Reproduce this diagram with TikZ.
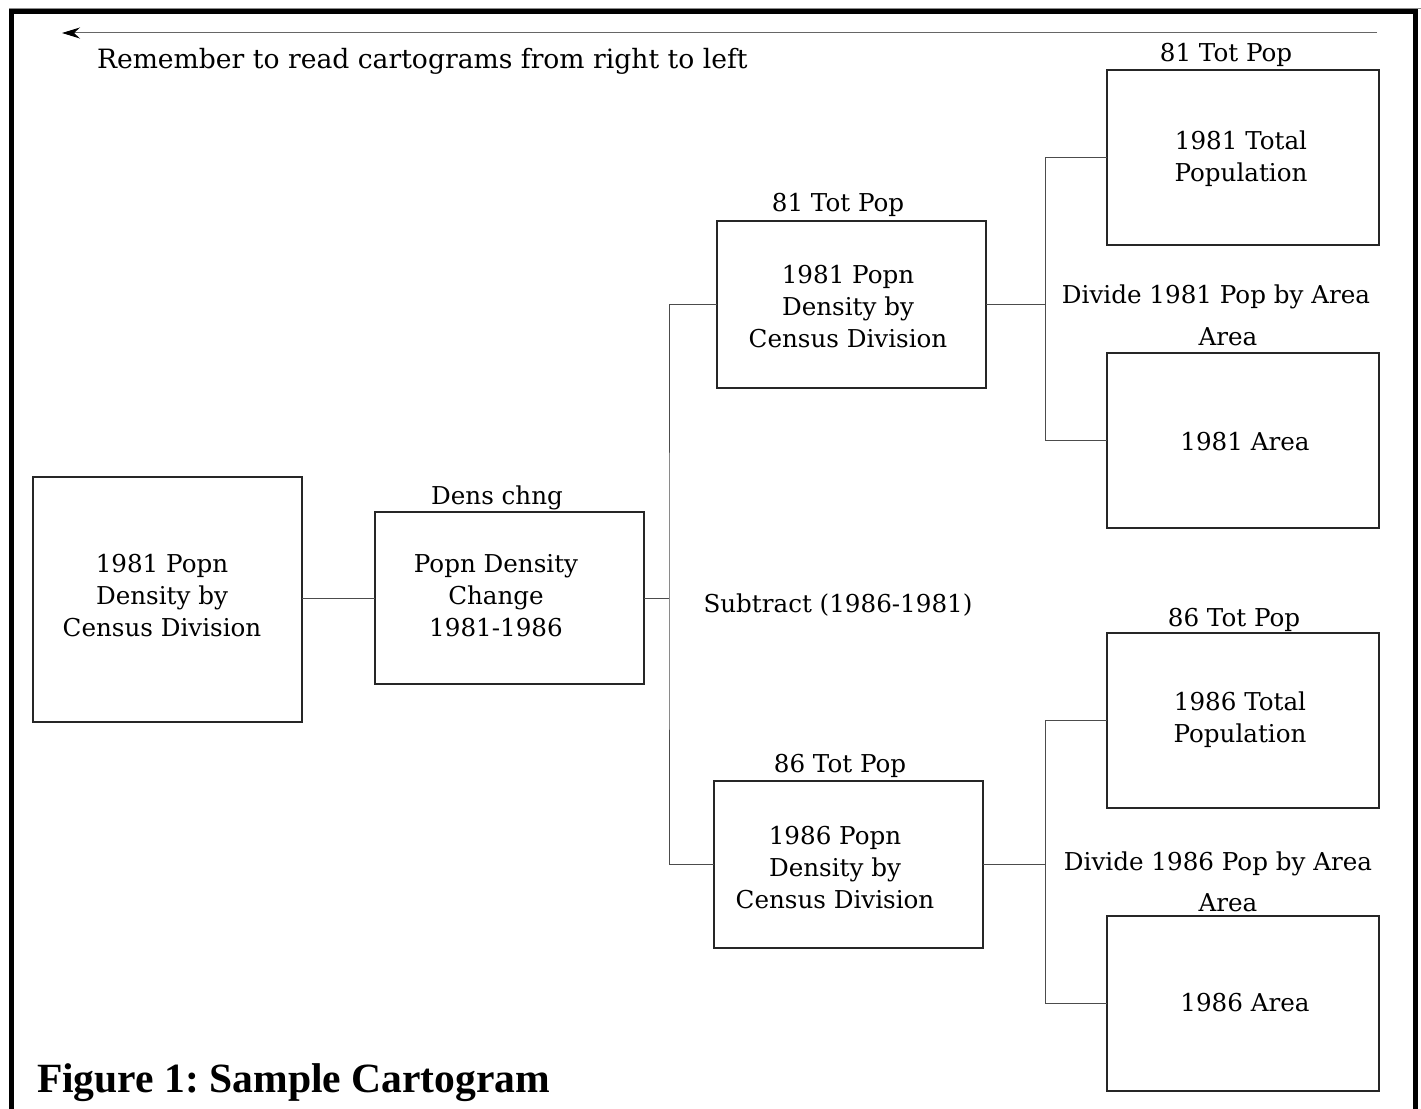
\documentclass[tikz,border=0pt]{standalone}
\usepackage{fontspec}
\setmainfont{DejaVu Serif}
\newfontfamily\headfont{Liberation Serif}
\usetikzlibrary{arrows.meta}
\begin{document}
\frenchspacing
\begin{tikzpicture}[x=1pt,y=-1pt,
  every node/.style={inner sep=0pt,outer sep=0pt},
  txt/.style={font=\fontsize{24.6}{32}\selectfont,align=center},
  box/.style={draw=black!85,line width=1.4pt,anchor=north west},
  wire/.style={draw=black!70,line width=1pt}]
\useasboundingbox (0,0) rectangle (1421,1108);
% page frame
\draw[black!45,line width=0.8pt] (9,8) -- (1421,8);
\draw[line width=5pt] (11.5,1120) -- (11.5,11.5) -- (1415,11.5) -- (1415,1120);
% reading direction
\coordinate (arrS) at (1377,33);
\coordinate (arrE) at (62,33);
\draw[black!60,line width=1pt,-{Stealth[length=18pt,width=11pt,inset=6pt,black]}] (arrS) -- (arrE);
\node[font=\fontsize{26.6}{32}\selectfont,anchor=base west] (note) at (97,68) {Remember to read cartograms from right to left};
% boxes
\node[box,minimum width=269pt,minimum height=245pt] (A) at (33,477) {};
\node[box,minimum width=269pt,minimum height=172pt] (B) at (375,512) {};
\node[box,minimum width=269pt,minimum height=167pt] (C) at (717,221) {};
\node[box,minimum width=269pt,minimum height=167pt] (D) at (714,781) {};
\node[box,minimum width=272pt,minimum height=175pt] (E) at (1107,70) {};
\node[box,minimum width=272pt,minimum height=175pt] (F) at (1107,353) {};
\node[box,minimum width=272pt,minimum height=175pt] (G) at (1107,633) {};
\node[box,minimum width=272pt,minimum height=175pt] (H) at (1107,916) {};
% box contents
\node[txt] (At) at (162,596) {1981 Popn\\Density by\\Census Division};
\node[txt] (Bt) at (496,596) {Popn Density\\Change\\1981-1986};
\node[txt] (Ct) at (848,307) {1981 Popn\\Density by\\Census Division};
\node[txt] (Dt) at (835,868) {1986 Popn\\Density by\\Census Division};
\node[txt] (Et) at (1241,159) {1981 Total\\Population};
\node[txt] (Ft) at (1245,442) {1981 Area};
\node[txt] (Gt) at (1240,720) {1986 Total\\Population};
\node[txt] (Ht) at (1245,1003) {1986 Area};
% layer names above the boxes
\node[txt] (Bl) at (497,498) {Dens chng};
\node[txt] (Cl) at (838,205) {81 Tot Pop};
\node[txt] (Dl) at (840,766) {86 Tot Pop};
\node[txt] (El) at (1226,55) {81 Tot Pop};
\node[txt] (Fl) at (1228,337) {Area};
\node[txt] (Gl) at (1234,620) {86 Tot Pop};
\node[txt] (Hl) at (1228,903) {Area};
% operations
\node[txt] (op1) at (838,605) {Subtract (1986-1981)};
\node[txt] (op2) at (1216,297) {Divide 1981 Pop by Area};
\node[txt] (op3) at (1218,864) {Divide 1986 Pop by Area};
% connectors
\coordinate (j1) at (669,598);
\coordinate (j2) at (1045,304.5);
\coordinate (j3) at (1045,864.5);
\draw[wire] (A.east |- B.west) -- (B.west);
\draw[wire] (B.east) -- (j1);
\draw[wire] (C.west) -| (j1) |- (D.west);
\draw[wire] (C.east) -- (j2);
\draw[wire] (E.west) -| (j2) |- (F.west);
\draw[wire] (D.east) -- (j3);
\draw[wire] (G.west) -| (j3) |- (H.west);
% caption
\node[anchor=base west,font=\headfont\bfseries\fontsize{41.6}{48}\selectfont] (cap) at (37,1092) {Figure 1: Sample Cartogram};
\end{tikzpicture}
\end{document}
